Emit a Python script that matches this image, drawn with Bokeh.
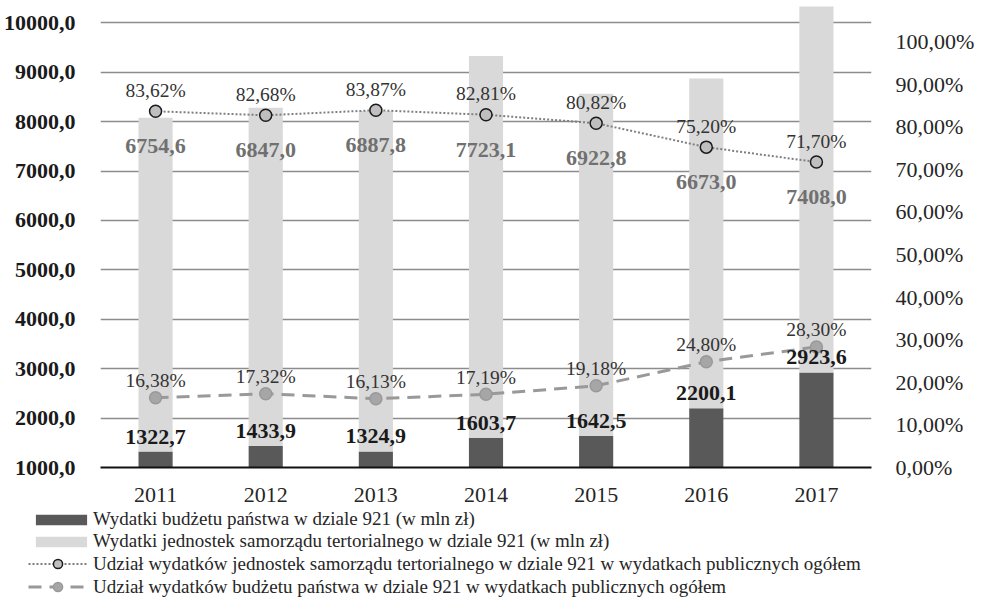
from bokeh.plotting import figure
from bokeh.models import (ColumnDataSource, Range1d, LinearAxis, FixedTicker,
                          Legend, LegendItem, FactorRange)
from bokeh.embed import file_html
from bokeh.resources import INLINE
from bokeh.core.properties import value

# ---------------- data ----------------
years = ["2011", "2012", "2013", "2014", "2015", "2016", "2017"]
state_exp = [1322.7, 1433.9, 1324.9, 1603.7, 1642.5, 2200.1, 2923.6]
local_exp = [6754.6, 6847.0, 6887.8, 7723.1, 6922.8, 6673.0, 7408.0]
local_share = [83.62, 82.68, 83.87, 82.81, 80.82, 75.20, 71.70]
state_share = [16.38, 17.32, 16.13, 17.19, 19.18, 24.80, 28.30]

left_ticks = [1000, 2000, 3000, 4000, 5000, 6000, 7000, 8000, 9000, 10000]
left_tick_labels = ["1000,0", "2000,0", "3000,0", "4000,0", "5000,0",
                    "6000,0", "7000,0", "8000,0", "9000,0", "10000,0"]
right_ticks = [0, 10, 20, 30, 40, 50, 60, 70, 80, 90, 100]
right_tick_labels = ["0,00%", "10,00%", "20,00%", "30,00%", "40,00%", "50,00%",
                     "60,00%", "70,00%", "80,00%", "90,00%", "100,00%"]

legend_labels = [
    "Wydatki budżetu państwa w dziale 921 (w mln zł)",
    "Wydatki jednostek samorządu tertorialnego w dziale 921 (w mln zł)",
    "Udział wydatków jednostek samorządu tertorialnego w dziale 921 w wydatkach publicznych ogółem",
    "Udział wydatków budżetu państwa w dziale 921 w wydatkach publicznych ogółem",
]

# ---------------- styles ----------------
SERIF = "Liberation Serif"
DARK = "#595959"
LIGHT = "#d9d9d9"

def fmt1(v):
    return f"{v:.1f}".replace(".", ",")

def fmt_pct(v):
    return f"{v:.2f}".replace(".", ",") + "%"

src = ColumnDataSource(dict(
    years=years,
    state=state_exp,
    local=local_exp,
    local_share=local_share,
    state_share=state_share,
    state_lbl=[fmt1(v) for v in state_exp],
    local_lbl=[fmt1(v) for v in local_exp],
    local_share_lbl=[fmt_pct(v) for v in local_share],
    state_share_lbl=[fmt_pct(v) for v in state_share],
))

p = figure(width=977, height=506, x_range=FactorRange(*years),
           y_range=Range1d(1000, 10350),
           output_backend="svg", toolbar_location=None,
           min_border_left=90, min_border_right=106,
           min_border_top=5, min_border_bottom=39)
p.outline_line_color = None
p.background_fill_color = "white"
p.border_fill_color = "white"
p.extra_y_ranges = {"pct": Range1d(0, 108.45)}

# grid
p.xgrid.grid_line_color = None
p.ygrid.ticker = FixedTicker(ticks=left_ticks)
p.ygrid.grid_line_color = "#8c8c8c"
p.ygrid.grid_line_width = 1.3

# left axis
ya = p.yaxis[0]
ya.ticker = FixedTicker(ticks=left_ticks)
ya.major_label_overrides = {t: l for t, l in zip(left_ticks, left_tick_labels)}
ya.axis_line_color = None
ya.major_tick_line_color = None
ya.minor_tick_line_color = None
ya.major_label_standoff = 19
ya.major_label_text_font = SERIF
ya.major_label_text_font_style = "bold"
ya.major_label_text_font_size = "22px"
ya.major_label_text_color = "#1a1a1a"

# right axis
ra = LinearAxis(y_range_name="pct", ticker=FixedTicker(ticks=right_ticks))
ra.major_label_overrides = {t: l for t, l in zip(right_ticks, right_tick_labels)}
ra.axis_line_color = None
ra.major_tick_line_color = None
ra.minor_tick_line_color = None
ra.major_label_standoff = 18
ra.major_label_text_font = SERIF
ra.major_label_text_font_size = "22px"
ra.major_label_text_color = "#262626"
p.add_layout(ra, "right")

# x axis
xa = p.xaxis[0]
xa.axis_line_color = "#111111"
xa.axis_line_width = 2
xa.major_tick_line_color = None
xa.minor_tick_line_color = None
xa.major_label_standoff = 14
xa.major_label_text_font = SERIF
xa.major_label_text_font_size = "22px"
xa.major_label_text_color = "#262626"

# stacked bars
p.vbar_stack(["state", "local"], x="years", width=0.31, source=src,
             color=[DARK, LIGHT], line_color=None)

# lines
line_local = dict(line_color="#7f7f7f", line_width=2, line_dash="2 2")
pts_local = dict(size=12, fill_color="#bfbfbf", line_color="#1a1a1a", line_width=1.5)
line_state = dict(line_color="#999999", line_width=3, line_dash="13 8")
pts_state = dict(size=12, fill_color="#a6a6a6", line_color="#999999", line_width=1.5)

p.line("years", "local_share", source=src, y_range_name="pct", **line_local)
p.scatter("years", "local_share", source=src, y_range_name="pct", **pts_local)
p.line("years", "state_share", source=src, y_range_name="pct", **line_state)
p.scatter("years", "state_share", source=src, y_range_name="pct", **pts_state)

# labels
p.text(x="years", y="state", text="state_lbl", source=src,
       text_font=value(SERIF), text_font_style="bold", text_font_size="22px",
       text_color="#1a1a1a", text_align="center", text_baseline="middle",
       y_offset=-15)
p.text(x="years", y="local_share", text="local_lbl", source=src,
       y_range_name="pct",
       text_font=value(SERIF), text_font_style="bold", text_font_size="22px",
       text_color="#707070", text_align="center", text_baseline="middle",
       y_offset=35)
p.text(x="years", y="local_share", text="local_share_lbl", source=src,
       y_range_name="pct",
       text_font=value(SERIF), text_font_size="19.5px",
       text_color="#333333", text_align="center", text_baseline="middle",
       y_offset=-21)
p.text(x="years", y="state_share", text="state_share_lbl", source=src,
       y_range_name="pct",
       text_font=value(SERIF), text_font_size="19.5px",
       text_color="#333333", text_align="center", text_baseline="middle",
       y_offset=-17)

# ---------------- legend strip (same data, drawn out of view) ----------------
lp = figure(width=977, height=92, x_range=FactorRange(*years),
            y_range=Range1d(100000, 100001), x_axis_location=None,
            y_axis_location=None,
            output_backend="svg", toolbar_location=None, min_border=0)
lp.grid.grid_line_color = None
lp.outline_line_color = None
lp.background_fill_color = "white"
lp.border_fill_color = "white"

r_dark = lp.vbar(x="years", top="state", width=0.31, source=src,
                 color=DARK, line_color=None)
r_light = lp.vbar(x="years", top="local", width=0.31, source=src,
                  color=LIGHT, line_color=None)
r_l1 = lp.line("years", "local_share", source=src, **line_local)
r_p1 = lp.scatter("years", "local_share", source=src, **pts_local)
r_l2 = lp.line("years", "state_share", source=src, **line_state)
r_p2 = lp.scatter("years", "state_share", source=src, **pts_state)

def style_legend(lg):
    lg.border_line_color = None
    lg.background_fill_alpha = 0
    lg.padding = 0
    lg.margin = 0
    lg.spacing = 0
    lg.label_text_font = SERIF
    lg.label_text_font_size = "19px"
    lg.label_text_color = "#262626"
    lg.label_height = 19

legend_bars = Legend(items=[
    LegendItem(label=legend_labels[0], renderers=[r_dark]),
    LegendItem(label=legend_labels[1], renderers=[r_light]),
], location=(29, 46))
style_legend(legend_bars)
legend_bars.glyph_width = 64
legend_bars.glyph_height = 13
legend_bars.label_standoff = 0

legend_lines = Legend(items=[
    LegendItem(label=legend_labels[2], renderers=[r_l1, r_p1]),
    LegendItem(label=legend_labels[3], renderers=[r_l2, r_p2]),
], location=(28, 0))
style_legend(legend_lines)
legend_lines.glyph_width = 59
legend_lines.glyph_height = 23
legend_lines.label_standoff = 6

lp.add_layout(legend_bars, "center")
lp.add_layout(legend_lines, "center")

open("out.html", "w").write(file_html([p, lp], INLINE))
